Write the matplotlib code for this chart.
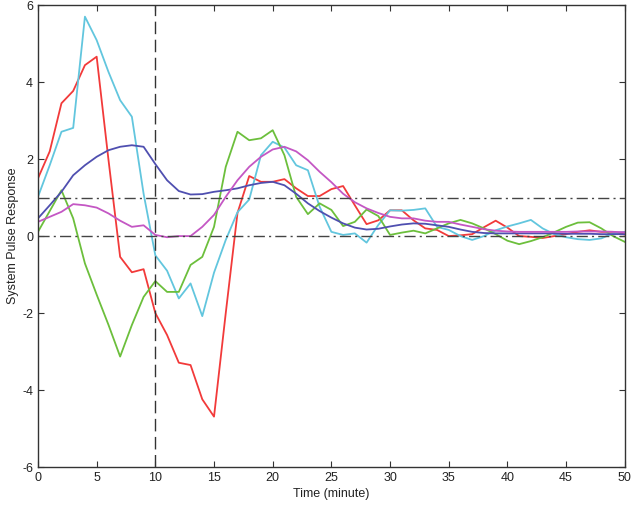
import matplotlib.pyplot as plt
import numpy as np

plt.rcParams['font.family'] = ['Liberation Sans', 'DejaVu Sans']
plt.rcParams['axes.unicode_minus'] = False

# time axis (minutes)
t = np.arange(0, 51)

# pulse responses
red = [1.5, 2.2, 3.45, 3.77, 4.44, 4.66, 2.0, -0.54, -0.94, -0.86,
       -2.0, -2.57, -3.29, -3.35, -4.24, -4.69, -2.0, 0.6, 1.56, 1.41,
       1.41, 1.48, 1.24, 1.04, 1.04, 1.22, 1.30, 0.8, 0.31, 0.41,
       0.67, 0.67, 0.41, 0.2, 0.16, 0.0, 0.02, 0.05, 0.23, 0.4,
       0.22, 0.0, -0.02, -0.05, 0.0, 0.05, 0.11, 0.15, 0.11, 0.11, 0.04]
cyan = [1.02, 1.84, 2.71, 2.81, 5.7, 5.09, 4.27, 3.53, 3.1, 1.1,
        -0.5, -0.9, -1.62, -1.23, -2.08, -0.95, -0.1, 0.62, 0.95, 2.1,
        2.45, 2.3, 1.84, 1.71, 0.76, 0.11, 0.03, 0.07, -0.17, 0.29,
        0.67, 0.66, 0.68, 0.72, 0.24, 0.16, 0.0, -0.1, 0.0, 0.15,
        0.25, 0.33, 0.42, 0.2, 0.05, -0.03, -0.08, -0.1, -0.06, 0.07, 0.11]
green = [0.11, 0.65, 1.19, 0.46, -0.71, -1.52, -2.3, -3.13, -2.31, -1.58,
         -1.17, -1.45, -1.45, -0.75, -0.54, 0.24, 1.8, 2.71, 2.49, 2.54,
         2.75, 2.1, 1.02, 0.57, 0.85, 0.68, 0.26, 0.37, 0.69, 0.52,
         0.03, 0.09, 0.14, 0.07, 0.2, 0.33, 0.42, 0.33, 0.2, 0.05,
         -0.12, -0.21, -0.13, -0.03, 0.1, 0.24, 0.35, 0.36, 0.2, 0.0, -0.15]
blue = [0.46, 0.8, 1.15, 1.58, 1.84, 2.06, 2.23, 2.32, 2.36, 2.32,
        1.87, 1.45, 1.17, 1.08, 1.09, 1.15, 1.19, 1.24, 1.32, 1.38,
        1.41, 1.32, 1.1, 0.85, 0.65, 0.48, 0.33, 0.22, 0.17, 0.19,
        0.25, 0.3, 0.33, 0.32, 0.28, 0.24, 0.17, 0.11, 0.08, 0.07,
        0.07, 0.07, 0.07, 0.07, 0.07, 0.06, 0.06, 0.06, 0.05, 0.05, 0.05]
magenta = [0.37, 0.5, 0.63, 0.83, 0.8, 0.74, 0.59, 0.4, 0.24, 0.28,
           0.03, -0.03, 0.0, 0.0, 0.24, 0.55, 1.02, 1.45, 1.8, 2.06,
           2.25, 2.32, 2.2, 1.97, 1.67, 1.4, 1.1, 0.88, 0.72, 0.6,
           0.5, 0.46, 0.46, 0.4, 0.37, 0.37, 0.3, 0.24, 0.18, 0.14,
           0.12, 0.11, 0.11, 0.11, 0.11, 0.11, 0.12, 0.12, 0.12, 0.11, 0.1]

series = [
    (red, '#f23a3a'),
    (cyan, '#62c6de'),
    (green, '#6cbf3c'),
    (blue, '#4f4fb0'),
    (magenta, '#c457c4'),
]

fig = plt.figure(figsize=(6.33, 5.11), dpi=100)
ax = fig.add_axes([0.060, 0.086, 0.927, 0.904])

for values, color in series:
    ax.plot(t, values, color=color, linewidth=1.3)

# reference lines
ax.axhline(0, color='#444444', linestyle=(0, (8, 3, 1.5, 3)), linewidth=1.0)
ax.axhline(1, color='#444444', linestyle=(0, (8, 3, 1.5, 3)), linewidth=1.0)
ax.axvline(10, color='#333333', linestyle=(0, (9, 4)), linewidth=1.0)

ax.set_xlim(0, 50)
ax.set_ylim(-6, 6)
ax.set_xticks(np.arange(0, 51, 5))
ax.set_yticks(np.arange(-6, 7, 2))
ax.tick_params(direction='in', top=True, right=True, length=4,
               labelsize=9, colors='#333333', labelcolor='#222222')
for s in ax.spines.values():
    s.set_color('#333333')
    s.set_linewidth(1.0)

ax.set_xlabel('Time (minute)', fontsize=9, color='#222222', labelpad=3)
ax.set_ylabel('System Pulse Response', fontsize=9, color='#222222', labelpad=2)

fig.savefig('out.png', dpi=100)
